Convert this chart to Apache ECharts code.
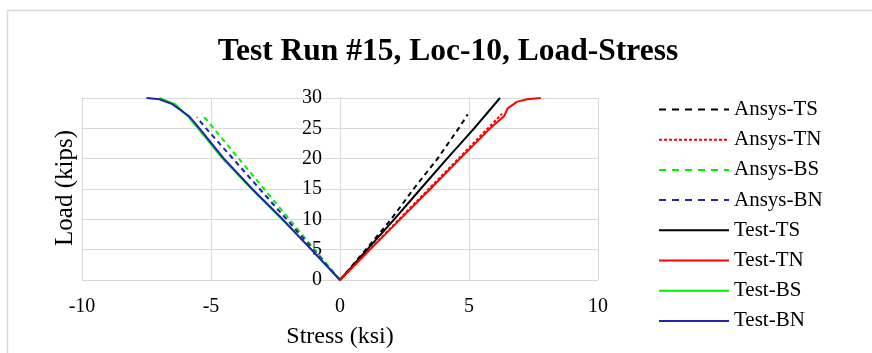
<!DOCTYPE html>
<html>
<head>
<meta charset="utf-8">
<script src="https://cdn.jsdelivr.net/npm/echarts@6/dist/echarts.min.js"></script>
<style>
  html, body { margin: 0; padding: 0; background: #fff; }
  #chart { width: 872px; height: 353px; }
</style>
</head>
<body>
<div id="chart"></div>
<script>
// Stress (ksi) vs. load (kips) pairs for each gauge location
const ansysTS = [[0, 0], [1.0, 5], [1.98, 10], [2.85, 15], [3.78, 20], [4.6, 25], [4.95, 27.3]];
const ansysTN = [[0, 0], [1.15, 5], [2.29, 10], [3.44, 15], [4.59, 20], [5.73, 25], [6.28, 27.4]];
const ansysBS = [[0, 0], [-0.98, 5], [-1.96, 10], [-2.94, 15], [-3.92, 20], [-4.9, 25], [-5.37, 27.4]];
const ansysBN = [[0, 0], [-1.04, 5], [-2.07, 10], [-3.11, 15], [-4.15, 20], [-5.19, 25], [-5.55, 26.8]];
const testTS = [[0, 0], [1.05, 5], [2.1, 10], [3.12, 15], [4.15, 20], [5.2, 25], [6.2, 30]];
const testTN = [[0, 0], [1.16, 5], [2.33, 10], [3.5, 15], [4.65, 20], [5.82, 25], [6.36, 27], [6.5, 28.3], [6.87, 29.4], [7.26, 29.8], [7.78, 30]];
const testBS = [[0, 0], [-1.1, 5], [-2.25, 10], [-3.42, 15], [-4.55, 20], [-5.5, 25], [-5.9, 27], [-6.4, 29], [-7.0, 30]];
const testBN = [[0, 0], [-1.11, 5], [-2.22, 10], [-3.4, 15], [-4.5, 20], [-5.45, 25], [-5.85, 27], [-6.5, 29], [-7.0, 29.8], [-7.5, 30]];

const seriesNames = ['Ansys-TS', 'Ansys-TN', 'Ansys-BS', 'Ansys-BN', 'Test-TS', 'Test-TN', 'Test-BS', 'Test-BN'];
const seriesData = [ansysTS, ansysTN, ansysBS, ansysBN, testTS, testTN, testBS, testBN];
const seriesColors = ['#000000', '#ff0000', '#00ee00', '#2323b0', '#000000', '#ff0000', '#00ee00', '#2323b0'];
// Dash patterns on the plot and in the legend swatches
const seriesDash = [[5, 4], [3, 2], [5, 4], [5, 4], 'solid', 'solid', 'solid', 'solid'];
const legendDash = [[7, 6], [3, 2], [7, 6], [7, 6], 'solid', 'solid', 'solid', 'solid'];

const FONT = '"Liberation Serif", "Times New Roman", serif';
const GRID_COLOR = '#d9d9d9';

// Plot area in pixels; the load axis sits at zero stress, in the middle.
const PLOT_LEFT = 82, PLOT_RIGHT_GAP = 274;
const PLOT_WIDTH = 872 - PLOT_LEFT - PLOT_RIGHT_GAP;

const chart = echarts.init(document.getElementById('chart'), null, { renderer: 'canvas' });

chart.setOption({
  animation: false,
  backgroundColor: '#ffffff',
  title: {
    text: 'Test Run #15, Loc-10, Load-Stress',
    left: 443,
    top: 31,
    textAlign: 'center',
    textStyle: { fontFamily: FONT, fontSize: 31.5, fontWeight: 'bold', color: '#000' }
  },
  grid: { left: PLOT_LEFT, right: PLOT_RIGHT_GAP, top: 98, bottom: 73 },
  legend: {
    orient: 'vertical',
    left: 658,
    top: 99,
    padding: 0,
    itemWidth: 70,
    itemHeight: 14,
    itemGap: 9.2,
    data: seriesNames.map((name, i) => ({
      name,
      lineStyle: { type: legendDash[i], color: seriesColors[i], width: 2 }
    })),
    itemStyle: { opacity: 0 },
    textStyle: { fontFamily: FONT, fontSize: 21, color: '#000', lineHeight: 20 }
  },
  xAxis: {
    type: 'value',
    min: -10, max: 10, interval: 5,
    axisLine: { lineStyle: { color: GRID_COLOR } },
    axisTick: { show: false },
    axisLabel: { fontFamily: FONT, fontSize: 20, color: '#000', margin: 17 },
    splitLine: { lineStyle: { color: GRID_COLOR, width: 1 } }
  },
  yAxis: {
    type: 'value',
    min: 0, max: 30, interval: 5,
    position: 'left',
    offset: -PLOT_WIDTH / 2,
    axisLine: { show: true, onZero: false, lineStyle: { color: GRID_COLOR } },
    axisTick: { show: false },
    axisLabel: { fontFamily: FONT, fontSize: 20, color: '#000', margin: 18 },
    splitLine: { lineStyle: { color: GRID_COLOR, width: 1 } }
  },
  graphic: [
    {
      type: 'rect',
      shape: { x: 7.5, y: 10.5, width: 900, height: 400 },
      style: { fill: 'none', stroke: '#d9d9d9', lineWidth: 1.5 },
      silent: true
    },
    {
      type: 'text',
      x: 340, y: 337,
      style: {
        text: 'Stress (ksi)', font: '24px ' + FONT, fill: '#000',
        textAlign: 'center', textVerticalAlign: 'middle'
      }
    },
    {
      type: 'text',
      x: 65, y: 188,
      rotation: Math.PI / 2,
      style: {
        text: 'Load (kips)', font: '25px ' + FONT, fill: '#000',
        textAlign: 'center', textVerticalAlign: 'middle'
      }
    }
  ],
  series: seriesNames.map((name, i) => ({
    name,
    type: 'line',
    data: seriesData[i],
    symbol: 'none',
    smooth: false,
    z: i < 4 ? 2 : 3,
    lineStyle: { color: seriesColors[i], width: 2, type: seriesDash[i] },
    itemStyle: { color: seriesColors[i] }
  }))
});
</script>
</body>
</html>
